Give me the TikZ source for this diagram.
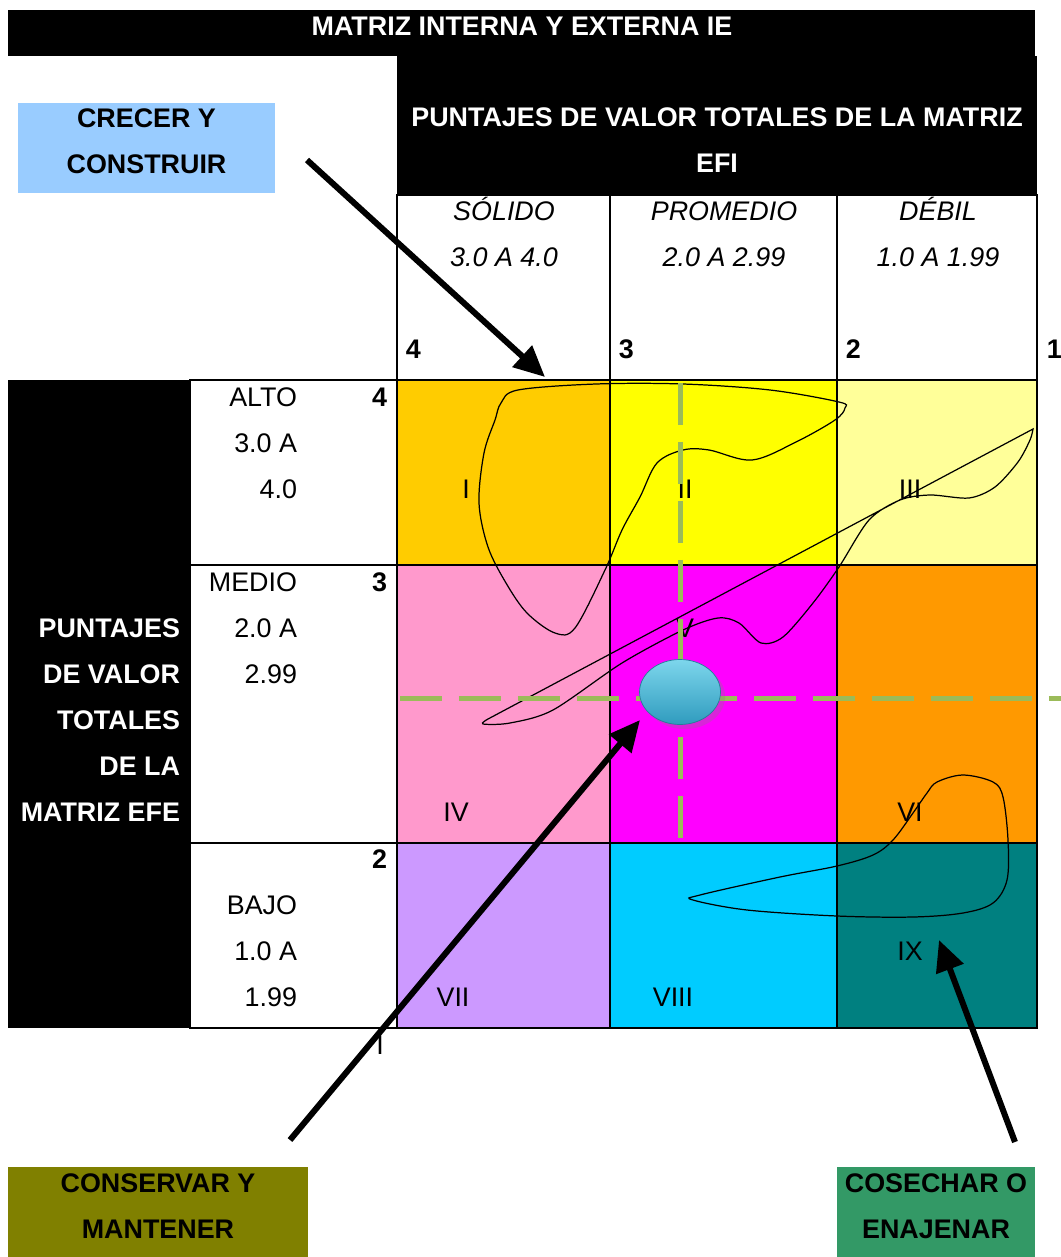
\documentclass[tikz,border=0pt]{standalone}
\usepackage{fontspec}
\setmainfont{Liberation Sans}
\usetikzlibrary{arrows.meta,positioning,calc,shapes.geometric,shadows}

\definecolor{celI}{HTML}{FFCC00}
\definecolor{celII}{HTML}{FFFF00}
\definecolor{celIII}{HTML}{FFFF99}
\definecolor{celIV}{HTML}{FF99CC}
\definecolor{celV}{HTML}{FF00FF}
\definecolor{celVI}{HTML}{FF9900}
\definecolor{celVII}{HTML}{CC99FF}
\definecolor{celVIII}{HTML}{00CCFF}
\definecolor{celIX}{HTML}{008080}
\definecolor{crecer}{HTML}{99CCFF}
\definecolor{conservar}{HTML}{808000}
\definecolor{cosechar}{HTML}{339966}
\definecolor{guia}{HTML}{9BBB59}
\definecolor{bolaA}{HTML}{7DD6EC}
\definecolor{bolaB}{HTML}{2F9BBE}

\begin{document}
\begin{tikzpicture}[x=0.02cm, y=-0.02cm, line width=1.1pt,
    txt/.style={font=\fontsize{15.3}{26.2}\selectfont, inner sep=0pt},
    bold/.style={font=\fontsize{15.3}{26.2}\selectfont\bfseries, inner sep=0pt},
    hdr/.style={bold, text=white, align=center},
    colh/.style={font=\fontsize{15.3}{26.2}\selectfont\itshape, inner sep=0pt, align=center},
    accion/.style={bold, align=center},
    flecha/.style={-{Triangle[length=0.62cm,width=0.56cm]}, line width=0.12cm},
    eje/.style={draw=guia, line width=0.1cm, dash pattern=on 0.84cm off 0.34cm},
    curva/.style={draw, line width=0.7pt}]
  \useasboundingbox (0,0) rectangle (1061,1257);
  % ---------------- titulo y encabezado EFI ----------------
  \fill (8,10) rectangle (1035,56);
  \node[hdr] (titulo) at (522,26) {MATRIZ INTERNA Y EXTERNA IE};
  \fill (397,56) rectangle (1037,195);
  \node[hdr] (efi) at (717,140) {PUNTAJES DE VALOR TOTALES DE LA MATRIZ\\EFI};
  \draw (397,195) rectangle (1037,380);
  \draw (610,195) -- (610,380) (837,195) -- (837,380);
  \node[colh] (solido) at (504,232) {SÓLIDO\\3.0 A 4.0};
  \node[colh] (promedio) at (724,234) {PROMEDIO\\2.0 A 2.99};
  \node[colh] (debil) at (938,232) {DÉBIL\\1.0 A 1.99};
  \node[bold, anchor=west] (n4) at (405,349) {4};
  \node[bold, anchor=west] (n3) at (618,349) {3};
  \node[bold, anchor=west] (n2) at (845,349) {2};
  \node[bold, anchor=west] (n1) at (1046,349) {1};
  % ---------------- encabezado EFE ----------------
  \fill (8,380) rectangle (190,1028);
  \node[hdr, align=right, anchor=east] (efe) at (181,720) {PUNTAJES\\DE VALOR\\TOTALES\\DE LA\\MATRIZ EFE};
  \draw (190,380) rectangle (397,1028);
  \draw (190,565) -- (397,565) (190,843) -- (397,843);
  \node[txt, align=right, anchor=east] (alto) at (298,443) {ALTO\\3.0 A\\4.0};
  \node[txt, align=right, anchor=east] (medio) at (298,628) {MEDIO\\2.0 A\\2.99};
  \node[txt, align=right, anchor=east] (bajo) at (298,951) {BAJO\\1.0 A\\1.99};
  \node[bold, anchor=east] (r4) at (388,397) {4};
  \node[bold, anchor=east] (r3) at (388,582) {3};
  \node[bold, anchor=east] (r2) at (388,859) {2};
  % ---------------- celdas ----------------
  \foreach \c/\xa/\ya/\xb/\yb in {celI/397/380/610/565, celII/610/380/837/565, celIII/837/380/1037/565,
      celIV/397/565/610/843, celV/610/565/837/843, celVI/837/565/1037/843,
      celVII/397/843/610/1028, celVIII/610/843/837/1028, celIX/837/843/1037/1028}
    \fill[\c] (\xa,\ya) rectangle (\xb,\yb);
  \draw (397,380) rectangle (1037,1028);
  \draw (610,380) -- (610,1028) (837,380) -- (837,1028);
  \draw (397,565) -- (1037,565) (397,843) -- (1037,843);
  \foreach \lab/\x/\y in {I/466/489, II/685/489, III/910/489, IV/456/812, V/685/628,
      VI/910/812, VII/453/997, VIII/673/997, IX/910/951}
    \node[txt] (lab-\lab) at (\x,\y) {\lab};
  \node[txt] (suelto) at (380,1045) {I};
  % ---------------- trazos a mano ----------------
  \draw[curva] plot[smooth cycle, tension=0.55] coordinates {(596,384) (518,390) (501,403) (495,420)
      (484,453) (479,503) (488,547) (506,583) (527,613) (555,633) (575,628) (605,570) (622,530)
      (640,497) (657,463) (683,450) (709,450) (752,460) (796,442) (835,420) (845,408) (839,402)
      (770,390) (683,384)};
  \draw[curva] plot[smooth, tension=0.5] coordinates {(488,719) (483,724) (510,723) (553,710)
      (622,663) (683,630) (718,618) (739,623) (761,643) (783,637) (813,603) (839,567) (869,520)
      (900,500) (930,495) (969,498) (995,487) (1018,462) (1030,440) (1033,429)} -- cycle;
  \draw[curva] plot[smooth cycle, tension=0.55] coordinates {(937,782) (963,775) (993,782)
      (1003,797) (1008,840) (1007,880) (993,903) (963,913) (913,917) (837,916) (747,910)
      (693,900) (700,895) (780,877) (837,866) (873,855) (893,840) (913,813) (927,793)};
  % ---------------- ejes y posicion ----------------
  \draw[eje] (400,698) -- (1061,698);
  \draw[eje] (680,383) -- (680,843);
  \node[ellipse, minimum width=1.62cm, minimum height=1.3cm, top color=bolaA, bottom color=bolaB,
      draw=bolaB!80!black, line width=0.4pt, drop shadow={opacity=0.3}] (punto) at (680,692) {};
  % ---------------- estrategias ----------------
  \fill[crecer] (18,103) rectangle (275,193);
  \node[accion] (crecerbox) at (146.5,141) {CRECER Y\\CONSTRUIR};
  \fill[conservar] (8,1167) rectangle (308,1257);
  \node[accion] (conservarbox) at (158,1206) {CONSERVAR Y\\MANTENER};
  \fill[cosechar] (837,1167) rectangle (1035,1257);
  \node[accion] (cosecharbox) at (936,1206) {COSECHAR O\\ENAJENAR};
  \coordinate (f1a) at (307,160);
  \coordinate (f1b) at (545,377);
  \coordinate (f2a) at (290,1140);
  \coordinate (f2b) at (640,720);
  \coordinate (f3a) at (1015,1142);
  \coordinate (f3b) at (939,940);
  \draw[flecha] (f1a) -- (f1b);
  \draw[flecha] (f2a) -- (f2b);
  \draw[flecha] (f3a) -- (f3b);
\end{tikzpicture}
\end{document}
